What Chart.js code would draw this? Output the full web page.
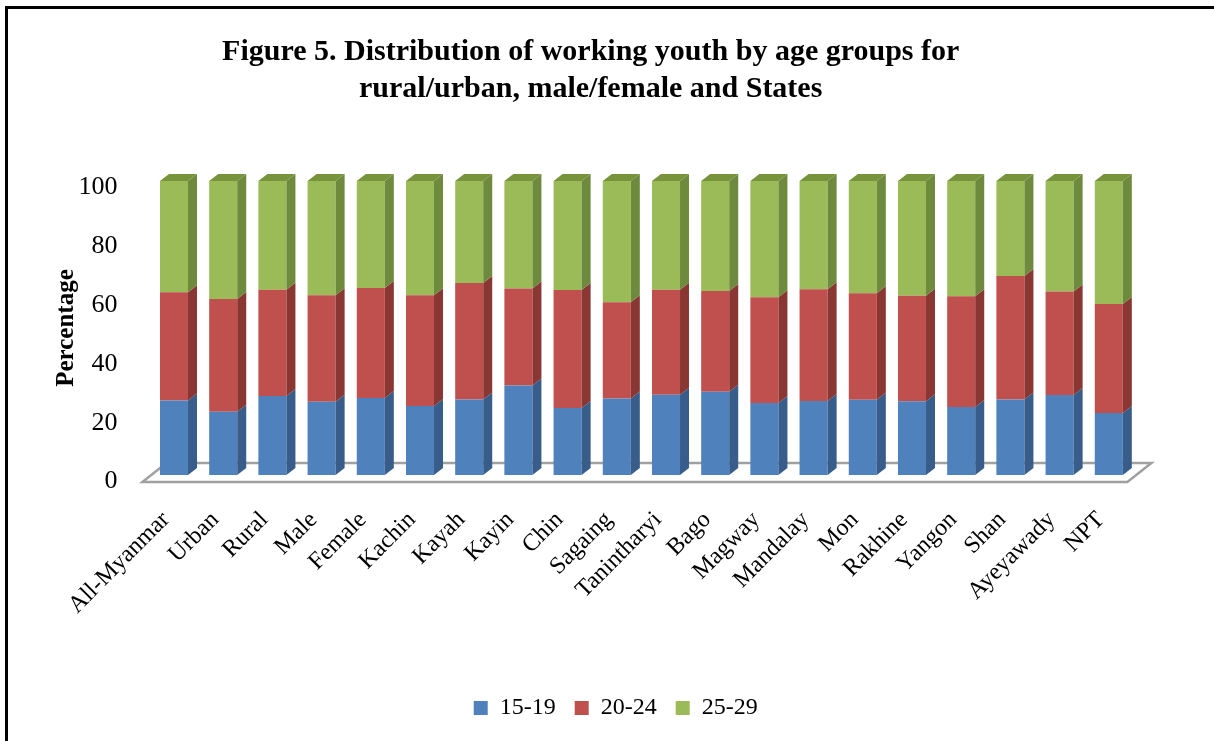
<!DOCTYPE html>
<html><head><meta charset="utf-8">
<script src="https://cdn.jsdelivr.net/npm/chart.js@4.4.0/dist/chart.umd.min.js"></script>
<style>
html,body{margin:0;padding:0;background:#fff;overflow:hidden;}
#wrap{position:relative;width:1214px;height:741px;}
#frame{position:absolute;left:5px;top:6px;width:1300px;height:800px;border-left:3px solid #000;border-top:3px solid #000;pointer-events:none;}
canvas{position:absolute;left:0;top:0;}
</style></head>
<body><div id="wrap"><canvas id="c" width="1214" height="741"></canvas><div id="frame"></div></div>
<script>
const categories = ["All-Myanmar","Urban","Rural","Male","Female","Kachin","Kayah","Kayin","Chin","Sagaing","Tanintharyi","Bago","Magway","Mandalay","Mon","Rakhine","Yangon","Shan","Ayeyawady","NPT"];
const age15_19 = [25.3,21.5,26.9,24.9,26.2,23.5,25.7,30.4,22.8,26.0,27.3,28.3,24.5,25.2,25.6,25.1,23.1,25.7,27.2,21.1];
const age20_24 = [36.9,38.4,36.1,36.2,37.4,37.6,39.6,33.0,40.1,32.8,35.7,34.3,36.0,38.0,36.2,35.9,37.7,42.0,35.2,37.1];
const age25_29 = [37.8,40.1,37.0,38.9,36.4,38.9,34.7,36.6,37.1,41.2,37.0,37.4,39.5,36.8,38.2,39.0,39.2,32.3,37.6,41.8];
const seriesNames = ["15-19","20-24","25-29"];
const yTicks = [0,20,40,60,80,100];
const titleLines = ["Figure 5. Distribution of working youth by age groups for","rural/urban, male/female and States"];
const yTitle = "Percentage";

const FONT = "'Liberation Serif','Times New Roman',serif";
const frontColors = ['#4F81BD','#C0504D','#9BBB59'];
const sideColors = ['#385D8A','#8A3633','#6E8A3C'];
const topColor = '#77933C';
const DX = 9, DY = 7;
const LEGEND_SHIFT = 25;

const bar3d = {
  id: 'bar3d',
  beforeDatasetsDraw(chart) {
    const {ctx, chartArea: a} = chart;
    ctx.save();
    ctx.beginPath();
    ctx.moveTo(a.left - 7, a.bottom + 7);
    ctx.lineTo(a.right - 6, a.bottom + 7);
    ctx.lineTo(a.right + 18, a.bottom - 12);
    ctx.lineTo(a.left + 17, a.bottom - 12);
    ctx.closePath();
    ctx.fillStyle = '#ffffff';
    ctx.fill();
    ctx.strokeStyle = '#a0a0a0';
    ctx.lineWidth = 2.5;
    ctx.stroke();
    ctx.restore();
  },
  afterDatasetsDraw(chart) {
    const ctx = chart.ctx;
    const n = chart.data.datasets.length;
    ctx.save();
    chart.data.datasets.forEach((ds, di) => {
      const meta = chart.getDatasetMeta(di);
      meta.data.forEach(el => {
        const {x, y, base, width} = el.getProps(['x','y','base','width'], true);
        const l = x - width/2, r = x + width/2;
        ctx.fillStyle = sideColors[di];
        ctx.beginPath();
        ctx.moveTo(r, y); ctx.lineTo(r + DX, y - DY); ctx.lineTo(r + DX, base - DY); ctx.lineTo(r, base);
        ctx.closePath(); ctx.fill();
        if (di === n - 1) {
          ctx.fillStyle = topColor;
          ctx.beginPath();
          ctx.moveTo(l, y); ctx.lineTo(l + DX, y - DY); ctx.lineTo(r + DX, y - DY); ctx.lineTo(r, y);
          ctx.closePath(); ctx.fill();
        }
      });
    });
    ctx.restore();
  }
};

const legendShift = {
  id: 'legendShift',
  afterLayout(chart) {
    if (chart.legend) { chart.legend.left += LEGEND_SHIFT; chart.legend.right += LEGEND_SHIFT; }
  }
};

const datasets = [age15_19, age20_24, age25_29].map((d, i) => ({
  label: seriesNames[i], data: d, backgroundColor: frontColors[i], borderWidth: 0
}));

new Chart(document.getElementById('c'), {
  type: 'bar',
  data: { labels: categories, datasets },
  options: {
    responsive: false, animation: false,
    layout: { padding: { top: 0, left: 48, right: 80.6, bottom: 11 } },
    datasets: { bar: { categoryPercentage: 1, barPercentage: 0.57 } },
    plugins: {
      title: { display: true, text: titleLines, color: '#000',
        font: { family: FONT, size: 30, weight: 'bold', lineHeight: 1.25 },
        padding: { top: 33, bottom: 73 } },
      legend: { position: 'bottom',
        labels: { color: '#000', boxWidth: 14, boxHeight: 14, padding: 19,
          font: { family: FONT, size: 24 } } },
      tooltip: { enabled: false }
    },
    scales: {
      x: { stacked: true,
        grid: { display: false, drawTicks: false }, border: { display: false },
        ticks: { color: '#000', font: { family: FONT, size: 24 }, minRotation: 45, maxRotation: 45, autoSkip: false, padding: 31, labelOffset: -8 },
        afterFit(s) { s.height = 202; } },
      y: { stacked: true, min: 0, max: 100,
        grid: { display: false, drawTicks: false }, border: { display: false },
        afterBuildTicks(s) { s.ticks = yTicks.map(v => ({ value: v })); },
        ticks: { color: '#000', font: { family: FONT, size: 26 }, padding: 32, labelOffset: 6.5 },
        title: { display: true, text: yTitle, color: '#000', font: { family: FONT, size: 25, weight: 'bold' }, padding: { top: 4, bottom: 4 } },
        afterFit(s) { s.width = 101.4; } }
    }
  },
  plugins: [bar3d, legendShift]
});
</script>
</body></html>
